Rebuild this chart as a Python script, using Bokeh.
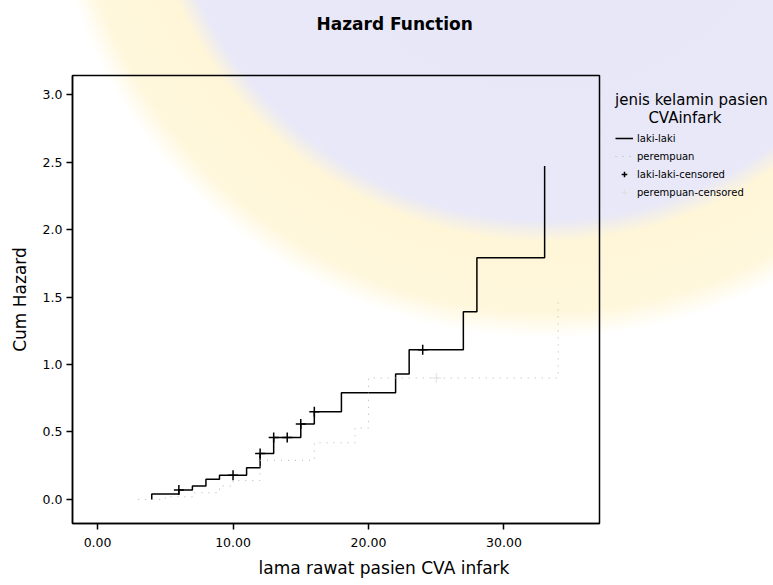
from bokeh.plotting import figure
from bokeh.models import (Range1d, FixedTicker, PrintfTickFormatter, Legend,
                          LegendItem, Title, InlineStyleSheet)
from bokeh.embed import file_html
from bokeh.resources import INLINE

# Cumulative hazard, male patients (laki-laki): event times and hazard after each step
laki_time = [4, 4, 6, 7, 8, 9, 11, 12, 13, 15, 16, 18, 22, 23, 27, 28, 33]
laki_hazard = [0.0, 0.04, 0.07, 0.10, 0.15, 0.18, 0.235, 0.34, 0.46, 0.56, 0.65,
               0.79, 0.93, 1.11, 1.39, 1.79, 2.47]

# Censored male patients
laki_cens_time = [6, 10, 12, 13, 14, 15, 16, 24]
laki_cens_hazard = [0.07, 0.18, 0.34, 0.46, 0.46, 0.56, 0.65, 1.11]

# Cumulative hazard, female patients (perempuan)
perempuan_time = [3, 5, 7, 9, 10, 12, 16, 19, 20, 34]
perempuan_hazard = [0.0, 0.02, 0.05, 0.10, 0.14, 0.29, 0.42, 0.53, 0.90, 1.47]

# Censored female patients
perempuan_cens_time = [25]
perempuan_cens_hazard = [0.90]

x_ticks = [0, 10, 20, 30]
y_ticks = [0.0, 0.5, 1.0, 1.5, 2.0, 2.5, 3.0]

FONT = "DejaVu Sans"

# faint seal watermark behind the whole chart
seal = InlineStyleSheet(css="""
:host {
  background: radial-gradient(circle at 545px -160px,
      #e6e6f8 0px, #e8e8f8 380px, #fff6d8 402px, #fff7dc 472px, #ffffff 498px);
}
""")

p = figure(width=773, height=585, output_backend="svg", toolbar_location=None,
           frame_width=527,
           x_range=Range1d(-1.85, 37.05), y_range=Range1d(-0.178, 3.141),
           min_border_left=72, min_border_right=174, min_border_top=75,
           min_border_bottom=62)
p.stylesheets = [seal]
p.background_fill_color = None
p.border_fill_color = None
p.grid.visible = False
p.outline_line_color = "black"
p.outline_line_width = 1.5

# title sits well above the frame: trailing blank lines lift it upward
p.title.text = "Hazard Function\n\n"
p.title.align = "left"
p.title.offset = 244
p.title.standoff = 4
p.title.text_font = FONT
p.title.text_font_style = "bold"
p.title.text_font_size = "17px"
p.title.text_color = "black"

for ax in (p.xaxis[0], p.yaxis[0]):
    ax.axis_line_color = "black"
    ax.axis_line_width = 1.5
    ax.major_tick_out = 6
    ax.major_tick_in = 0
    ax.major_tick_line_width = 1.5
    ax.minor_tick_line_color = None
    ax.major_label_text_font = FONT
    ax.major_label_text_font_size = "12.5px"
    ax.major_label_text_color = "black"
    ax.axis_label_text_font = FONT
    ax.axis_label_text_font_style = "normal"
    ax.axis_label_text_font_size = "17px"
    ax.axis_label_text_color = "black"

p.xaxis.ticker = FixedTicker(ticks=x_ticks)
p.xaxis.formatter = PrintfTickFormatter(format="%.2f")
p.xaxis.major_label_standoff = 8
p.xaxis.axis_label_standoff = 0

p.yaxis.ticker = FixedTicker(ticks=y_ticks)
p.yaxis.formatter = PrintfTickFormatter(format="%.1f")
p.yaxis.axis_label = "Cum Hazard"
p.yaxis.major_label_standoff = 4
p.yaxis.axis_label_standoff = 10

# x axis caption, set under the axis
p.add_layout(Title(text="lama rawat pasien CVA infark", align="left", offset=186,
                   text_font=FONT, text_font_style="normal", text_font_size="17px",
                   text_color="black", standoff=12), "below")

r_laki = p.step(laki_time, laki_hazard, mode="after", line_color="black",
                line_width=1.5)
r_per = p.step(perempuan_time, perempuan_hazard, mode="after",
               line_color="#b4b4b4", line_width=1, line_dash="1 6")
r_laki_c = p.scatter(laki_cens_time, laki_cens_hazard, marker="cross", size=10,
                     line_color="black", line_width=1.5)
r_per_c = p.scatter(perempuan_cens_time, perempuan_cens_hazard, marker="cross",
                    size=10, line_color="#e0e0e0", line_width=1)

legend = Legend(items=[
    LegendItem(label="laki-laki", renderers=[r_laki]),
    LegendItem(label="perempuan", renderers=[r_per]),
    LegendItem(label="laki-laki-censored", renderers=[r_laki_c]),
    LegendItem(label="perempuan-censored", renderers=[r_per_c]),
], location="top_left", ncols=1)
legend.title = "jenis kelamin pasien\n\u00a0\u00a0\u00a0\u00a0\u00a0\u00a0\u00a0CVAinfark"
legend.title_text_font = FONT
legend.title_text_font_size = "15px"
legend.title_text_font_style = "normal"
legend.title_text_color = "black"
legend.title_standoff = 4
legend.margin = 16
legend.padding = 0
legend.spacing = 4
legend.glyph_width = 18
legend.glyph_height = 14
legend.label_standoff = 4
legend.label_text_font = FONT
legend.label_text_font_size = "10px"
legend.label_text_color = "black"
legend.border_line_color = None
legend.background_fill_alpha = 0
p.add_layout(legend, "right")

open("out.html", "w").write(file_html(p, INLINE))
